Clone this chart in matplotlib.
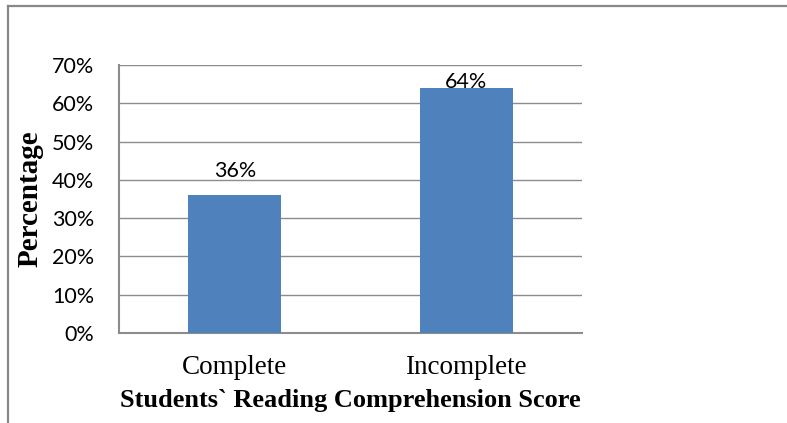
import matplotlib
matplotlib.use("Agg")
import matplotlib.pyplot as plt
from matplotlib.lines import Line2D
from matplotlib.ticker import PercentFormatter

categories = ["Complete", "Incomplete"]
values = [0.36, 0.64]
value_labels = ["36%", "64%"]
label_offsets = [13, 0]  # points above bar top, as placed in the original
y_ticks = [0.0, 0.1, 0.2, 0.3, 0.4, 0.5, 0.6, 0.7]

bar_color = "#4F81BD"
grid_color = "#8C8C8C"

fig = plt.figure(figsize=(7.87, 4.23), dpi=100)
ax = fig.add_axes([119 / 787, 90 / 423, 463 / 787, 268 / 423])

x = range(len(categories))
ax.bar(x, values, width=0.4, color=bar_color, zorder=3)

ax.set_xlim(-0.5, 1.5)
ax.set_ylim(0, 0.7)
ax.set_yticks(y_ticks)
ax.yaxis.set_major_formatter(PercentFormatter(1.0, decimals=0))
ax.grid(axis="y", color=grid_color, linewidth=1.0, zorder=0)

ax.set_xticks(list(x))
ax.set_xticklabels(categories, family="Liberation Serif", fontsize=19.5)
for lab in ax.get_yticklabels():
    lab.set_family("Lato")
    lab.set_fontsize(15.5)
ax.tick_params(axis="y", length=0, pad=18)
ax.tick_params(axis="x", length=0, pad=16)

for side in ["top", "right"]:
    ax.spines[side].set_visible(False)
for side in ["left", "bottom"]:
    ax.spines[side].set_color(grid_color)
    ax.spines[side].set_linewidth(1.5)

for xi, v, lab, off in zip(x, values, value_labels, label_offsets):
    ax.annotate(lab, (xi, v), xytext=(0, off), textcoords="offset points",
                ha="center", va="baseline", family="Lato", fontsize=15.5,
                zorder=4)

ax.set_xlabel("Students` Reading Comprehension Score", family="Liberation Serif",
              fontweight="bold", fontsize=19)
ax.xaxis.set_label_coords(0.5, -0.21)
ax.set_ylabel("Percentage", family="Liberation Serif", fontweight="bold",
              fontsize=21)
ax.yaxis.set_label_coords(-0.164, 0.5)

# outer chart border (only top and left visible in the crop)
fig.add_artist(Line2D([8 / 787, 1], [1 - 6.5 / 423, 1 - 6.5 / 423],
                      transform=fig.transFigure, color="#888888", linewidth=1.6))
fig.add_artist(Line2D([8 / 787, 8 / 787], [0, 1 - 6.5 / 423],
                      transform=fig.transFigure, color="#888888", linewidth=1.6))

fig.savefig("out.png", dpi=100)
